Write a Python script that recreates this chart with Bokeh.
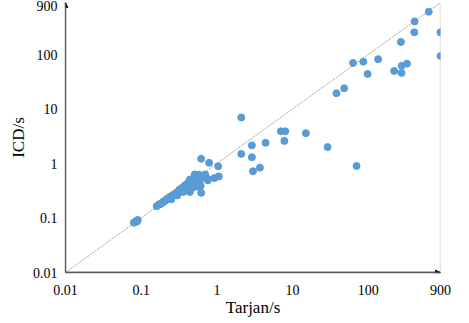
from bokeh.plotting import figure
from bokeh.embed import file_html
from bokeh.resources import INLINE
from bokeh.models import FixedTicker, Arrow, NormalHead, ColumnDataSource

# ---- data ----
tarjan = [
    630, 410, 405, 900, 270, 900, 63, 86, 135, 325, 277, 220, 275, 98, 48, 38,
    15, 29, 70, 2.1, 7.0, 8.0, 7.8, 4.4, 2.9, 2.1, 2.9, 3.7, 3.0,
    0.62, 0.79, 1.04, 1.06, 0.93, 0.76, 0.62, 0.51, 0.76, 0.61, 0.44, 0.44,
    0.16, 0.17, 0.175, 0.18, 0.19, 0.195, 0.2, 0.21, 0.215, 0.22, 0.23, 0.235,
    0.24, 0.25, 0.26, 0.27, 0.28, 0.29, 0.3, 0.31, 0.32, 0.33, 0.34, 0.35,
    0.36, 0.37, 0.38, 0.4, 0.41, 0.42, 0.44, 0.45, 0.46, 0.48, 0.5, 0.5,
    0.52, 0.53, 0.55, 0.57, 0.58, 0.6, 0.62, 0.65, 0.7, 0.36, 0.4, 0.3,
    0.25, 0.55, 0.48,
    0.08, 0.083, 0.086, 0.09, 0.088,
]
icd = [
    610, 405, 255, 255, 170, 94, 70, 74, 82, 68, 62, 50, 46, 44, 24, 19.5,
    3.6, 2.0, 0.9, 7.0, 3.9, 3.9, 2.6, 2.4, 2.15, 1.5, 1.3, 0.84, 0.72,
    1.22, 1.03, 0.89, 0.58, 0.54, 0.49, 0.29, 0.63, 0.52, 0.39, 0.30, 0.51,
    0.165, 0.175, 0.18, 0.18, 0.19, 0.2, 0.2, 0.21, 0.22, 0.22, 0.23, 0.24,
    0.24, 0.25, 0.26, 0.27, 0.28, 0.28, 0.3, 0.3, 0.33, 0.32, 0.35, 0.34,
    0.37, 0.36, 0.4, 0.38, 0.43, 0.4, 0.46, 0.42, 0.5, 0.45, 0.55, 0.42,
    0.5, 0.6, 0.45, 0.55, 0.62, 0.5, 0.58, 0.6, 0.63, 0.3, 0.33, 0.26,
    0.22, 0.38, 0.36,
    0.082, 0.085, 0.088, 0.092, 0.086,
]
axis_limits = [0.01, 900]
tick_values = [0.01, 0.1, 1, 10, 100, 900]
tick_labels = ["0.01", "0.1", "1", "10", "100", "900"]

FONT = "Liberation Serif"

p = figure(
    x_axis_type="log", y_axis_type="log",
    x_range=(axis_limits[0], axis_limits[1]),
    y_range=(axis_limits[0], axis_limits[1]),
    width=453, height=319,
    min_border_left=65, min_border_right=13,
    min_border_top=2, min_border_bottom=40,
    output_backend="svg", toolbar_location=None,
)
p.outline_line_color = None
p.xgrid.visible = False
p.ygrid.visible = False
p.background_fill_color = "white"
p.border_fill_color = "white"

ticker = FixedTicker(ticks=tick_values, minor_ticks=[])
overrides = {v: l for v, l in zip(tick_values, tick_labels)}
for ax in (p.xaxis[0], p.yaxis[0]):
    ax.ticker = ticker
    ax.major_label_overrides = overrides
    ax.major_tick_line_color = None
    ax.minor_tick_line_color = None
    ax.major_tick_out = 0
    ax.major_tick_in = 0
    ax.axis_line_color = "#595959"
    ax.axis_line_width = 1.3
    ax.major_label_text_font = FONT
    ax.major_label_text_font_size = "14px"
    ax.major_label_text_color = "black"
    ax.axis_label_text_font = FONT
    ax.axis_label_text_font_size = "17px"
    ax.axis_label_text_font_style = "normal"
    ax.axis_label_text_color = "black"

p.xaxis.axis_label = "Tarjan/s"
p.yaxis.axis_label = "ICD/s"
p.xaxis.major_label_standoff = 12
p.xaxis.axis_label_standoff = 0
p.yaxis.major_label_standoff = 8
p.yaxis.axis_label_standoff = 2

# y = x reference line
p.line(axis_limits, axis_limits, line_color="#a6a6a6", line_width=1,
       line_dash="2 1")
# vertical dotted line at right limit
p.line([axis_limits[1], axis_limits[1]], axis_limits, line_color="#a6a6a6",
       line_width=1.5, line_dash="1 1")

src = ColumnDataSource(dict(x=tarjan, y=icd))
p.scatter("x", "y", source=src, size=7, fill_color="#5b9bd5",
          line_color="#5b9bd5")

# axis arrows
p.add_layout(Arrow(end=NormalHead(size=5, fill_color="#262626",
                                  line_color="#262626"),
                   x_start=axis_limits[0], y_start=axis_limits[0],
                   x_end=axis_limits[0], y_end=axis_limits[1],
                   line_color="#595959", line_width=1.3))
p.add_layout(Arrow(end=NormalHead(size=5, fill_color="#262626",
                                  line_color="#262626"),
                   x_start=axis_limits[0], y_start=axis_limits[0],
                   x_end=axis_limits[1], y_end=axis_limits[0],
                   line_color="#595959", line_width=1.3))

open("out.html", "w").write(file_html(p, INLINE))
